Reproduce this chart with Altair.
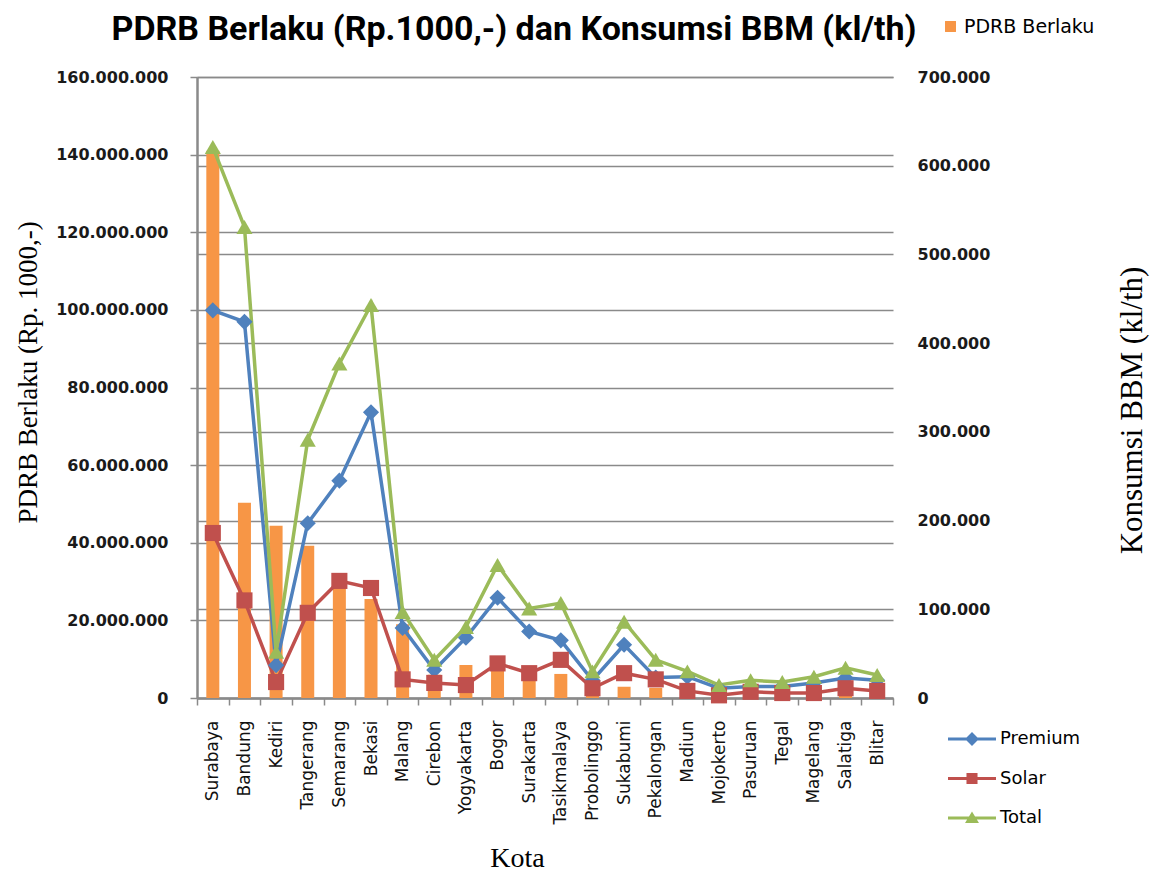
import altair as alt
import pandas as pd

cities = ["Surabaya", "Bandung", "Kediri", "Tangerang", "Semarang", "Bekasi", "Malang",
          "Cirebon", "Yogyakarta", "Bogor", "Surakarta", "Tasikmalaya", "Probolinggo",
          "Sukabumi", "Pekalongan", "Madiun", "Mojokerto", "Pasuruan", "Tegal",
          "Magelang", "Salatiga", "Blitar"]

# PDRB Berlaku (Rp. 1000,-)
pdrb = [141000000, 50300000, 44400000, 39200000, 30000000, 25500000, 19000000,
        6000000, 8500000, 7500000, 5500000, 6200000, 2000000, 2900000, 2600000,
        1500000, 1000000, 1000000, 1500000, 1000000, 800000, 1300000]

# Konsumsi BBM (kl/th)
premium = [437000, 424000, 37000, 197000, 245000, 322000, 79000, 31500, 68000, 113000,
           75000, 65000, 20000, 60000, 23000, 24000, 11000, 13000, 13000, 17000,
           22500, 20000]
solar = [186000, 110000, 18000, 96000, 132000, 124000, 21000, 17000, 14600, 39000,
         28000, 43000, 11000, 28000, 21000, 8000, 3000, 7000, 5600, 5600, 11000, 8000]
total = [621000, 531000, 52000, 291000, 377000, 443000, 97000, 43000, 80000, 150000,
         101000, 107000, 30000, 86000, 43000, 30000, 14600, 20000, 18000, 24000,
         34000, 26000]

series_names = ["Premium", "Solar", "Total"]
series_colors = ["#4F81BD", "#C0504D", "#9BBB59"]
series_shapes = ["diamond", "square", "triangle-up"]
legend_shapes = [
    "M-1,-0.065L1,-0.065L1,0.065L-1,0.065Z M0,-0.29L0.29,0L0,0.29L-0.29,0Z",
    "M-1,-0.065L1,-0.065L1,0.065L-1,0.065Z M-0.23,-0.23L0.23,-0.23L0.23,0.23L-0.23,0.23Z",
    "M-1,-0.065L1,-0.065L1,0.065L-1,0.065Z M0,-0.27L0.29,0.21L-0.29,0.21Z",
]
bar_color = "#F79646"
left_ticks = [0, 20000000, 40000000, 60000000, 80000000, 100000000, 120000000,
              140000000, 160000000]
right_ticks = [0, 100000, 200000, 300000, 400000, 500000, 600000, 700000]

bar_df = pd.DataFrame({"Kota": cities, "PDRB": pdrb, "label": ["PDRB Berlaku"] * len(cities)})
rows = []
for name, vals in zip(series_names, [premium, solar, total]):
    for c, v in zip(cities, vals):
        rows.append({"Kota": c, "series": name, "BBM": v})
line_df = pd.DataFrame(rows)
legend_df = pd.DataFrame({"series": series_names})

GRID = "#8a8a8a"
dot_expr = "replace(replace(format(datum.value, ','), ',', '.'), ',', '.')"

x_enc = alt.X(
    "Kota:N", sort=cities,
    scale=alt.Scale(paddingInner=0, paddingOuter=0),
    axis=alt.Axis(
        title="Kota", labelAngle=270, tickBand="extent", tickSize=7, tickWidth=1.5,
        tickColor=GRID, domainColor=GRID, domainWidth=2.5, labelPadding=15,
        labelFont="DejaVu Sans", labelFontSize=17, labelColor="#111111",
        titleFont="Liberation Serif", titleFontSize=28, titleFontWeight="normal",
        titleColor="black", titleX=320, titleY=168, titleAlign="center",
        titleBaseline="alphabetic", grid=False,
    ),
)

y_left = alt.Y(
    "PDRB:Q",
    scale=alt.Scale(domain=[0, 160000000], nice=False),
    axis=alt.Axis(
        title="PDRB Berlaku (Rp. 1000,-)", values=left_ticks, labelExpr=dot_expr,
        grid=True, gridColor=GRID, gridWidth=1.5, domainColor=GRID, domainWidth=2.5,
        tickColor=GRID, tickSize=7, tickWidth=1.5, labelPadding=22,
        labelFont="DejaVu Sans", labelFontWeight="bold", labelFontSize=16,
        labelColor="#1a1a1a", titleFont="Liberation Serif", titleFontSize=27,
        titleFontWeight="normal", titleColor="black", titleAngle=270,
        titleX=-169, titleY=295, titleAlign="center", titleBaseline="middle",
    ),
)

y_right = alt.Y(
    "BBM:Q",
    scale=alt.Scale(domain=[0, 700000], nice=False),
    axis=alt.Axis(
        orient="right", title="Konsumsi BBM  (kl/th)", values=right_ticks,
        labelExpr=dot_expr, grid=True, gridColor=GRID, gridWidth=1.5, domain=False,
        ticks=False, labelPadding=24, labelFont="DejaVu Sans", labelFontWeight="bold",
        labelFontSize=16, labelColor="#1a1a1a", titleFont="Liberation Serif",
        titleFontSize=31, titleFontWeight="normal", titleColor="black",
        titleAngle=270, titleX=239, titleY=333, titleAlign="center",
        titleBaseline="middle",
    ),
)

bars = alt.Chart(bar_df).mark_bar(size=13).encode(
    x=x_enc,
    y=y_left,
    color=alt.Color(
        "label:N",
        scale=alt.Scale(domain=["PDRB Berlaku"], range=[bar_color]),
        legend=alt.Legend(
            orient="none", legendX=744, legendY=-60, title=None, symbolType="square",
            symbolSize=120, symbolStrokeWidth=0, labelFont="DejaVu Sans",
            labelFontSize=19, labelColor="black", padding=0, labelOffset=4,
        ),
    ),
)

color_scale = alt.Scale(domain=series_names, range=series_colors)

lines = alt.Chart(line_df).mark_line(strokeWidth=3.5).encode(
    x=x_enc,
    y=y_right,
    color=alt.Color("series:N", scale=color_scale, legend=None),
)

points = alt.Chart(line_df).mark_point(filled=True, opacity=1, size=260).encode(
    x=x_enc,
    y=y_right,
    color=alt.Color("series:N", scale=color_scale, legend=None),
    shape=alt.Shape("series:N", scale=alt.Scale(domain=series_names, range=series_shapes),
                    legend=None),
)

line_legend = alt.Legend(
    orient="none", legendX=751, legendY=638, title=None, symbolSize=2304,
    symbolOpacity=1, symbolStrokeWidth=0, labelFont="DejaVu Sans",
    labelFontSize=18, labelColor="black", padding=0, labelOffset=4,
    rowPadding=6.5,
)

legend_layer = alt.Chart(legend_df).mark_point(filled=True, opacity=0).encode(
    color=alt.Color("series:N", scale=color_scale, legend=line_legend),
    shape=alt.Shape(
        "series:N", scale=alt.Scale(domain=series_names, range=legend_shapes),
        legend=line_legend,
    ),
)

right_layer = alt.layer(lines, points, legend_layer).resolve_scale(
    shape="independent", color="independent"
)

chart = alt.layer(bars, right_layer).resolve_scale(
    y="independent", color="independent"
).properties(
    width=696,
    height=621,
    autosize=alt.AutoSizeParams(type="none"),
    padding={"left": 189, "top": 69, "right": 258, "bottom": 175},
    background="white",
    title=alt.TitleParams(
        "PDRB Berlaku (Rp.1000,-) dan Konsumsi BBM (kl/th)",
        font="Liberation Sans Narrow, Roboto", fontSize=34, fontWeight="bold",
        color="black", anchor="middle", frame="group", dx=-31, offset=0,
        baseline="alphabetic", dy=57,
    ),
).configure_view(strokeWidth=0)

chart.save("out.html", embed_options={"renderer": "svg", "actions": False})
